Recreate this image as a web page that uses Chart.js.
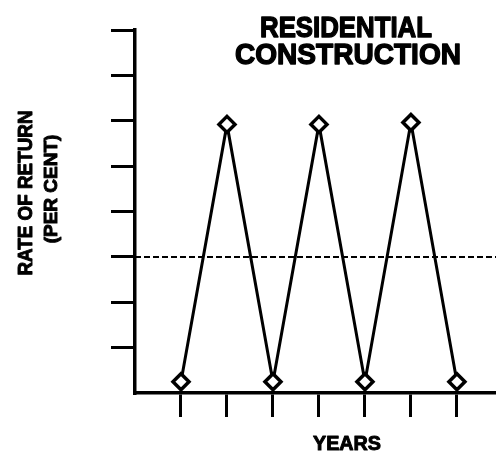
<!DOCTYPE html>
<html lang="en">
<head>
  <meta charset="UTF-8" />
  <title>Residential Construction</title>
  <script src="https://cdn.jsdelivr.net/npm/chart.js"></script>
  <style>
    body { margin: 0; background: #fff; }
  </style>
</head>
<body>
  <canvas id="chart" width="496" height="456"></canvas>
  <script>
    // data (no numeric labels in the original)
    const years = [1, 2, 3, 4, 5, 6, 7];
    const rateOfReturn = [0.25, 5.92, 0.25, 5.92, 0.25, 5.96, 0.25];
    const averageLevel = 3;
    const yTicks = [1, 2, 3, 4, 5, 6, 7, 8];
    const xMax = 7.85;

    const titleLines = ['RESIDENTIAL', 'CONSTRUCTION'];
    const yTitleLines = ['RATE OF RETURN', '(PER CENT)'];
    const xTitle = 'YEARS';

    const FONT = '"Liberation Sans", Arial, sans-serif';

    // heavy text: fill plus a thin stroke, squeezed to the width seen in the picture
    function heavyText(ctx, text, x, y, w, weight) {
      ctx.lineWidth = weight;
      ctx.strokeText(text, x, y, w);
      ctx.fillText(text, x, y, w);
    }

    const textPlugin = {
      id: 'texts',
      afterDraw(chart) {
        const ctx = chart.ctx;
        ctx.save();
        ctx.fillStyle = '#000';
        ctx.strokeStyle = '#000';
        ctx.lineJoin = 'round';
        ctx.textAlign = 'center';
        ctx.textBaseline = 'alphabetic';

        // title, top right inside the plot
        ctx.font = 'bold 30px ' + FONT;
        heavyText(ctx, titleLines[0], 346, 37, 172, 1.4);
        heavyText(ctx, titleLines[1], 348, 64, 226, 1.4);

        // x axis title
        ctx.font = 'bold 20px ' + FONT;
        heavyText(ctx, xTitle, 347, 450, 68, 1);

        // y axis title, rotated
        ctx.rotate(-Math.PI / 2);
        ctx.font = 'bold 21px ' + FONT;
        heavyText(ctx, yTitleLines[0], -193, 32, 165, 1);
        ctx.font = 'bold 19px ' + FONT;
        heavyText(ctx, yTitleLines[1], -189, 57, 112, 1);
        ctx.restore();
      }
    };

    new Chart(document.getElementById('chart'), {
      type: 'line',
      data: {
        datasets: [
          {
            data: years.map((x, i) => ({ x: x, y: rateOfReturn[i] })),
            borderColor: '#000',
            borderWidth: 3,
            pointStyle: 'rectRot',
            pointRadius: 8,
            pointBackgroundColor: '#fff',
            pointBorderColor: '#000',
            pointBorderWidth: 3.5,
            tension: 0
          },
          {
            data: [{ x: 0, y: averageLevel }, { x: xMax, y: averageLevel }],
            borderColor: '#000',
            borderWidth: 2,
            borderDash: [6, 3],
            pointRadius: 0
          }
        ]
      },
      options: {
        responsive: false,
        animation: false,
        layout: { autoPadding: false, padding: { top: 30, left: 0, right: 0, bottom: 0 } },
        plugins: {
          legend: { display: false },
          tooltip: { enabled: false }
        },
        scales: {
          x: {
            type: 'linear',
            min: 0,
            max: xMax,
            afterBuildTicks: (scale) => { scale.ticks = years.map(v => ({ value: v })); },
            afterFit: (scale) => { scale.height = 63; },
            ticks: { display: false },
            grid: { drawOnChartArea: false, drawTicks: true, tickLength: 24, color: '#000', lineWidth: 3 },
            border: { display: true, color: '#000', width: 3.5 }
          },
          y: {
            min: 0,
            max: 8,
            afterBuildTicks: (scale) => { scale.ticks = yTicks.map(v => ({ value: v })); },
            afterFit: (scale) => { scale.width = 135; },
            ticks: { display: false },
            grid: { drawOnChartArea: false, drawTicks: true, tickLength: 24, color: '#000', lineWidth: 3 },
            border: { display: true, color: '#000', width: 3.5 }
          }
        }
      },
      plugins: [textPlugin]
    });
  </script>
</body>
</html>
